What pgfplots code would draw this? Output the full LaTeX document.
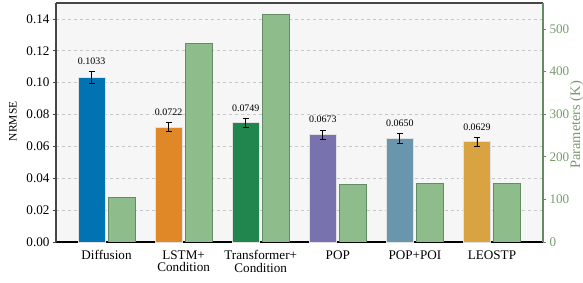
\documentclass[border=0pt]{standalone}
\usepackage{fontspec}
\setmainfont{Liberation Serif}
\usepackage{pgfplots}
\pgfplotsset{compat=1.18}
\definecolor{cDiff}{RGB}{1,115,178}
\definecolor{cLSTM}{RGB}{224,136,40}
\definecolor{cTrans}{RGB}{33,133,78}
\definecolor{cPOP}{RGB}{120,115,175}
\definecolor{cPOI}{RGB}{105,150,172}
\definecolor{cLEO}{RGB}{217,163,65}
\definecolor{pfill}{RGB}{143,188,139}
\definecolor{pedge}{RGB}{100,140,100}
\definecolor{ptext}{RGB}{120,155,110}
\definecolor{bgc}{RGB}{246,246,246}
\definecolor{spine}{RGB}{70,70,70}
\definecolor{bedge}{RGB}{225,225,225}
\pgfplotsset{
  common/.style={
    at={(0,0)}, anchor=south west,
    scale only axis, width=487bp, height=239bp,
    xmin=-0.656, xmax=5.662,
    tick align=outside, major tick length=3bp,
    tick label style={font=\fontsize{13.2}{12.6}\selectfont},
    /pgf/number format/assume math mode=true,
  },
  nbar/.style={ybar, bar width=27bp, bar shift=0bp, fill=#1, draw=bedge, line width=0.8bp,
    error bars/y dir=both, error bars/y explicit,
    error bars/error bar style={black, line width=0.9bp},
    error bars/error mark options={black, rotate=90, mark size=3bp, line width=0.9bp}},
  lab/.style={nodes near coords, point meta=y,
    nodes near coords style={font=\fontsize{10}{10}\selectfont, inner sep=0pt, anchor=south, yshift=#1, text=black,
      /pgf/number format/.cd, fixed, fixed zerofill, precision=4, assume math mode=true}},
}
\begin{document}
\begin{tikzpicture}
\begin{axis}[common,
  ymin=0, ymax=0.15,
  axis background/.style={fill=bgc},
  axis x line*=bottom, axis y line*=left,
  x axis line style={black, line width=1.2bp, -},
  y axis line style={spine, line width=1.2bp, -},
  xtick={0,1,2,3,4,5},
  xticklabels={Diffusion, LSTM+\\Condition, Transformer+\\Condition, POP, POP+POI, LEOSTP},
  xticklabel style={align=center, yshift=-2bp},
  xtick style={draw=none},
  ytick={0,0.02,0.04,0.06,0.08,0.10,0.12,0.14},
  yticklabel style={/pgf/number format/.cd, fixed, fixed zerofill, precision=2, assume math mode=true},
  ytick style={spine, line width=0.8bp},
  ymajorgrids, grid style={dashed, black!22, line width=0.6bp},
  ylabel={NRMSE},
  every axis y label/.style={at={(axis description cs:-0.0883,0.505)}, rotate=90, anchor=center, font=\fontsize{11.5}{12}\selectfont},
]
\addplot[nbar=cDiff, lab=12.7bp] coordinates {(-0.1946,0.1033) +- (0,0.0036)};
\addplot[nbar=cLSTM, lab=10.9bp] coordinates {(0.8054,0.0722) +- (0,0.0028)};
\addplot[nbar=cTrans, lab=10.6bp] coordinates {(1.8054,0.0749) +- (0,0.0028)};
\addplot[nbar=cPOP, lab=11.4bp] coordinates {(2.8054,0.0673) +- (0,0.0028)};
\addplot[nbar=cPOI, lab=11.8bp] coordinates {(3.8054,0.0650) +- (0,0.0032)};
\addplot[nbar=cLEO, lab=11.1bp] coordinates {(4.8054,0.0629) +- (0,0.0027)};
\end{axis}
\begin{axis}[common,
  ymin=0, ymax=561,
  axis x line*=top, axis y line*=right,
  x axis line style={spine, line width=1.2bp, -},
  y axis line style={pedge, line width=1.2bp, -},
  xtick=\empty,
  ytick={0,100,200,300,400,500},
  ytick style={pedge, line width=0.8bp},
  yticklabel style={text=ptext},
  ylabel={Parameters (K)},
  every axis y label/.style={at={(axis description cs:1.069,0.49)}, rotate=90, anchor=center, text=ptext, font=\fontsize{14.5}{15}\selectfont},
]
\addplot[ybar, bar width=27bp, bar shift=0bp, fill=pfill, draw=pedge, line width=0.9bp]
  coordinates {(0.1946,104) (1.1946,466) (2.1946,535) (3.1946,136) (4.1946,137) (5.1946,138)};
\end{axis}
\pgfresetboundingbox
\path[use as bounding box] (-56bp,-41bp) rectangle (527bp,242bp);
\end{tikzpicture}
\end{document}
